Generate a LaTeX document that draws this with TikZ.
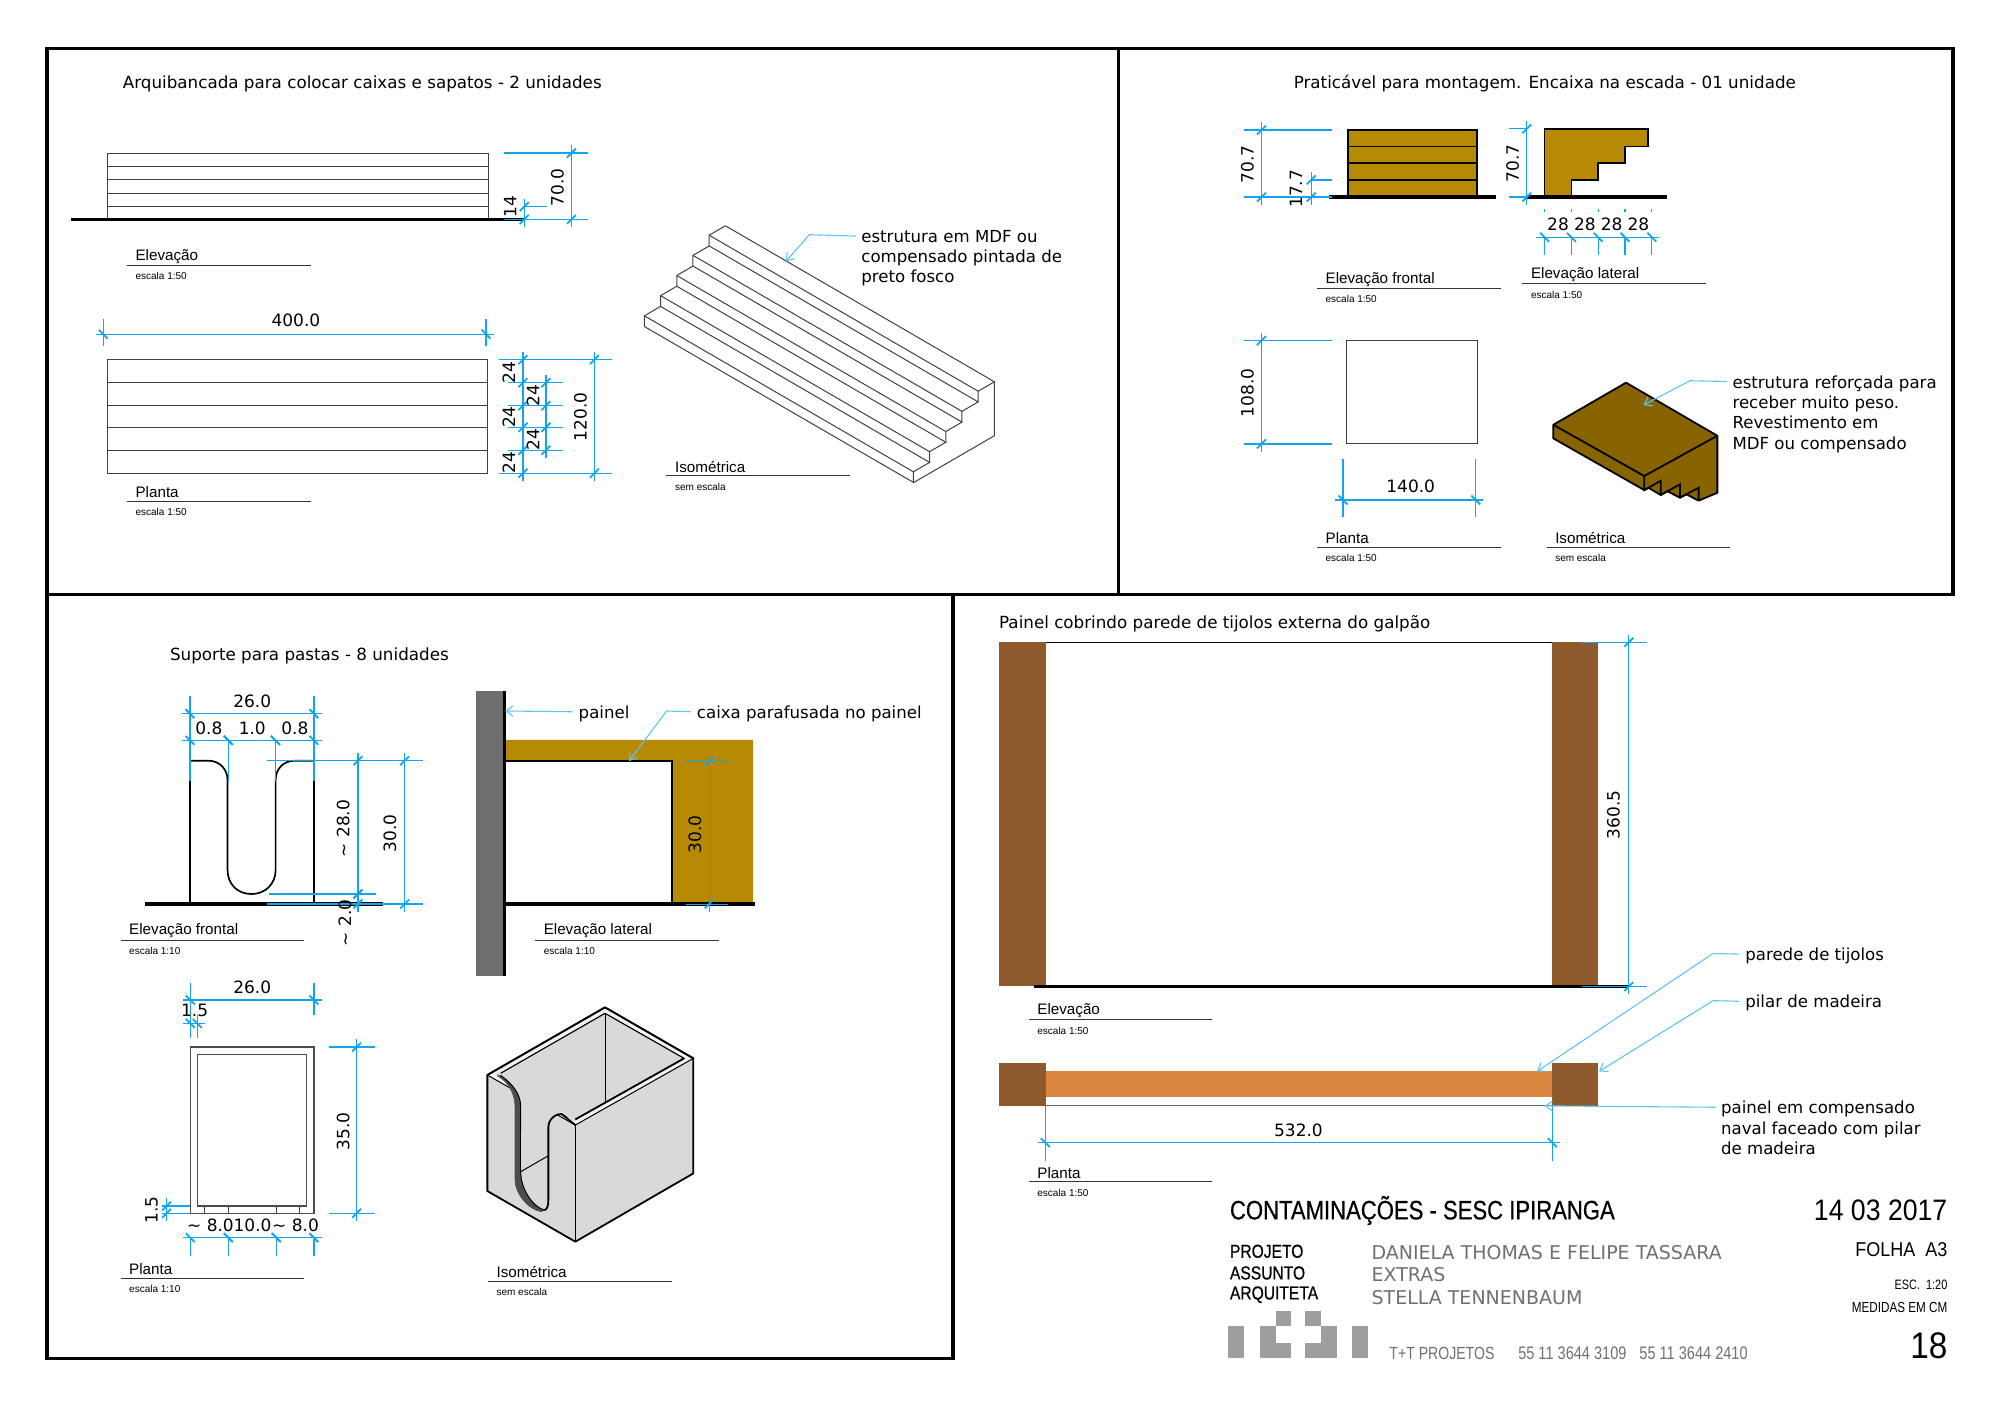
\documentclass[tikz,border=0pt]{standalone}
\usepackage{fontspec}
\setmainfont{DejaVu Sans}
\newfontfamily\capfont{Liberation Sans}
\newfontfamily\blockfont[FakeStretch=0.83,FakeBold=0.5]{Liberation Sans}
\newfontfamily\blockwide[FakeStretch=0.9]{Liberation Sans}
\newfontfamily\blockthin[FakeStretch=0.8]{Liberation Sans}
\usetikzlibrary{arrows.meta}

\definecolor{dimblue}{HTML}{12A5EC}
\definecolor{leadblue}{HTML}{5CC6F2}
\definecolor{gold}{HTML}{B68A05}
\definecolor{isobrown}{HTML}{876400}
\definecolor{pillar}{HTML}{8E5A2C}
\definecolor{plywood}{HTML}{DB8740}
\definecolor{blockgray}{HTML}{707070}

\tikzset{
  frameline/.style={line width=1.8pt,black},
  ground/.style={line width=1.7pt,black},
  thinline/.style={line width=0.5pt,black!75},
  dimline/.style={line width=0.65pt,dimblue},
  dimtick/.style={line width=0.9pt,dimblue},
  leader/.style={line width=0.55pt,leadblue,-{Straight Barb[length=3.5pt,width=5pt]}},
  dimtext/.style={font=\fontsize{8.5}{10}\selectfont,inner sep=0pt,yshift=-0.6pt},
  sheettitle/.style={font=\fontsize{8.37}{10}\selectfont,anchor=west,inner sep=0pt,yshift=-1.2pt},
  note/.style={font=\fontsize{8.3}{10.2}\selectfont,anchor=north west,align=left,inner sep=0pt,yshift=-1pt},
  capname/.style={font=\capfont\fontsize{7.6}{9}\selectfont,anchor=west,inner sep=0pt,yshift=-0.9pt},
  capscale/.style={font=\capfont\fontsize{5}{6}\selectfont,anchor=west,inner sep=0pt,yshift=-0.3pt},
  blockbig/.style={font=\blockfont\fontsize{13.3}{15}\selectfont,inner sep=0pt},
  blockkeys/.style={font=\blockfont\fontsize{9.4}{12}\selectfont,inner sep=0pt},
  blockval/.style={font=\fontsize{9.5}{11}\selectfont,text=blockgray,inner sep=0pt},
  blockgrey/.style={font=\blockthin\fontsize{9.2}{11}\selectfont,text=blockgray,inner sep=0pt},
  blockright/.style={font=\blockwide\fontsize{10}{12}\selectfont,anchor=east,inner sep=0pt},
  blocksmall/.style={font=\blockthin\fontsize{7.3}{8}\selectfont,anchor=east,inner sep=0pt},
  logocell/.style={fill=black!38,draw=none},
}

% dimension lines: position, then the two ends
\newcommand{\dimV}[3]{%
  \draw[dimline] (#1,#2-6) -- (#1,#3+6);
  \draw[dimtick] (#1-3.5,#2+3.5) -- (#1+3.5,#2-3.5);
  \draw[dimtick] (#1-3.5,#3+3.5) -- (#1+3.5,#3-3.5);
}
\newcommand{\dimH}[3]{%
  \draw[dimline] (#2-6,#1) -- (#3+6,#1);
  \draw[dimtick] (#2-3.5,#1-3.5) -- (#2+3.5,#1+3.5);
  \draw[dimtick] (#3-3.5,#1-3.5) -- (#3+3.5,#1+3.5);
}
% view caption: name, x of text, y of rule, title, scale
\newcommand{\viewcap}[5]{%
  \node[capname] (#1) at (#2,#3-8.5) {#4};
  \node[capscale] (#1s) at (#2,#3+8) {#5};
  \draw[line width=0.55pt,black!80] (#2-6.5,#3) -- (#2+137.5,#3);
}

\begin{document}
\begin{tikzpicture}[x=0.63776pt,y=-0.63776pt]
\useasboundingbox (0,0) rectangle (1568,1108.6);

% Sheet frames
\draw[frameline] (37,38) rectangle (1531,466);
\draw[frameline] (877,38) -- (877,466);
\draw[frameline] (37,466) -- (37,1065) -- (747,1065) -- (747,466);

% ---- Arquibancada ----
\node[sheettitle] (titlea) at (96,64) {Arquibancada para colocar caixas e sapatos - 2 unidades};

% Elevation
\draw[thinline] (84,120) rectangle (383,172);
\foreach \ly in {130.5,141,151.5,162} \draw[thinline] (84,\ly) -- (383,\ly);
\draw[ground] (56,172) -- (411,172);
\draw[dimline] (395,120) -- (461,120);
\draw[dimline] (395,172) -- (461,172);
\draw[dimline] (411,162) -- (429,162);
\dimV{448}{120}{172}
\dimV{411}{162}{172}
\node[dimtext,rotate=90] (dimaa) at (437,146) {70.0};
\node[dimtext,rotate=90] (dimab) at (400,161) {14};
\viewcap{capaa}{106}{208}{Elevação}{escala 1:50}

% Plan
\draw[thinline] (84,282) rectangle (382,371);
\foreach \ly in {300,318,335,353} \draw[thinline] (84,\ly) -- (382,\ly);
\dimH{262}{81}{381}
\draw[dimline] (81,250) -- (81,271);
\draw[dimline] (381,250) -- (381,271);
\node[dimtext] (dimac) at (232,250) {400.0};
\draw[dimline] (391,282) -- (480,282);
\draw[dimline] (391,371) -- (480,371);
\foreach \ly in {300,318,335,353} \draw[dimline] (398,\ly) -- (441,\ly);
\dimV{410}{282}{371}
\dimV{428}{300}{353}
\dimV{466}{282}{371}
\foreach \ly in {300,318,335,353} {
  \draw[dimtick] (406.5,\ly+3.5) -- (413.5,\ly-3.5);
}
\draw[dimtick] (424.5,321.5) -- (431.5,314.5);
\draw[dimtick] (424.5,338.5) -- (431.5,331.5);
\foreach \ly [count=\n] in {291,326,362} \node[dimtext,rotate=90] (dimad\n) at (399,\ly) {24};
\foreach \ly [count=\n] in {309,344} \node[dimtext,rotate=90] (dimae\n) at (418,\ly) {24};
\node[dimtext,rotate=90] (dimaf) at (455,326) {120.0};
\viewcap{capab}{106}{393}{Planta}{escala 1:50}

% Isometric stand
\foreach \i in {0,...,4} {
  \pgfmathsetmacro{\px}{568.7-12.7*\i}
  \pgfmathsetmacro{\py}{177+15.8*\i}
  \draw[thinline] (\px,\py) -- ++(-12.7,7.4) coordinate (nose) -- ++(0,8.4);
  \draw[thinline] (\px,\py) -- ++(210.9,122.3) -- ++(-12.7,7.4) -- ++(0,8.4);
  \draw[thinline] (nose) -- ++(210.9,122.3);
}
\draw[thinline] (505.2,256) -- (716.3,378.3) -- (779.6,341.6) -- (779.6,299.3);
\node[note] (notea) at (675,178.5) {estrutura em MDF ou\\compensado pintada de\\preto fosco};
\coordinate (notetipa) at (616,205);
\draw[leader] ([shift={(-4,5)}]notea.north west) -- (634.5,184) -- (notetipa);
\viewcap{capac}{529}{373}{Isométrica}{sem escala}

% ---- Praticavel ----
\node[sheettitle] (titleb) at (1014,64) {Praticável para montagem. Encaixa na escada - 01 unidade};

% Front elevation
\draw[fill=gold,line width=0.8pt] (1057,102) rectangle (1158,154);
\foreach \ly in {115,128,141} \draw[line width=0.8pt] (1057,\ly) -- (1158,\ly);
\draw[ground] (1042,154.5) -- (1173,154.5);
\draw[dimline] (975,102) -- (1044,102);
\draw[dimline] (975,154.5) -- (1044,154.5);
\draw[dimline] (1028,141) -- (1044,141);
\dimV{989}{102}{154.5}
\dimV{1028}{141}{154.5}
\node[dimtext,rotate=90] (dimba) at (978,128) {70.7};
\node[dimtext,rotate=90] (dimbb) at (1016,147) {17.7};
\viewcap{capba}{1039}{226}{Elevação frontal}{escala 1:50}

% Side elevation
\draw[fill=gold,line width=0.8pt] (1211,101) -- (1292,101) -- (1292,115) -- (1274,115) -- (1274,128)
  -- (1253,128) -- (1253,141) -- (1232,141) -- (1232,154) -- (1211,154) -- cycle;
\draw[ground] (1196,154.5) -- (1307,154.5);
\draw[dimline] (1183,101) -- (1198,101);
\draw[dimline] (1183,154.5) -- (1198,154.5);
\dimV{1197}{101}{154.5}
\node[dimtext,rotate=90] (dimbc) at (1186,127) {70.7};
\draw[dimline] (1204,186) -- (1301,186);
\foreach \tx in {1211,1232,1253,1274,1295} {
  \draw[dimline] (\tx,186) -- (\tx,200);
  \draw[dimtick] (\tx-3.5,182.5) -- (\tx+3.5,189.5);
  \draw[dimline] (\tx,164) -- (\tx,166);
}
\foreach \tx [count=\n] in {1221.5,1242.5,1263.5,1284.5} \node[dimtext] (dimbd\n) at (\tx,175) {28};
\viewcap{capbb}{1200}{222.5}{Elevação lateral}{escala 1:50}

% Plan
\draw[thinline] (1056,267) rectangle (1158,348);
\draw[dimline] (975,267) -- (1044,267);
\draw[dimline] (975,348) -- (1044,348);
\dimV{989}{267}{348}
\node[dimtext,rotate=90] (dimbe) at (978,307) {108.0};
\dimH{392}{1053}{1157}
\draw[dimline] (1053,360) -- (1053,405);
\draw[dimline] (1157,360) -- (1157,405);
\node[dimtext] (dimbf) at (1106,380) {140.0};
\viewcap{capbc}{1039}{429}{Planta}{escala 1:50}

% Isometric block
\draw[fill=isobrown,line width=0.9pt,line join=round] (1274.8,300) -- (1346.4,341.6) -- (1346.4,386.3) -- (1331.7,392.5)
  -- (1322,387.5) -- (1317.1,390.2) -- (1307,385) -- (1302,388.1) -- (1292.5,382.5) -- (1289.1,384.2)
  -- (1217.8,343.7) -- (1217.8,333) -- cycle;
\draw[line width=0.9pt] (1217.8,333) -- (1289.1,373.2) -- (1346.4,341.6);
\draw[line width=0.9pt] (1289.1,373.2) -- (1289.1,384.2) -- (1302,376.9) -- (1302,388.1);
\draw[line width=0.9pt] (1302,388.1) -- (1317.1,379.7) -- (1317.1,390.2);
\draw[line width=0.9pt] (1317.1,390.2) -- (1331.7,382.4) -- (1331.7,392.5);
\node[note] (noteb) at (1358,292.5) {estrutura reforçada para\\receber muito peso.\\Revestimento em\\MDF ou compensado};
\coordinate (notetipb) at (1288.4,317.6);
\draw[leader] ([shift={(-4,5)}]noteb.north west) -- (1325,298.5) -- (notetipb);
\viewcap{capbd}{1219}{429}{Isométrica}{sem escala}

% ---- Suporte ----
\node[sheettitle] (titlec) at (133,512) {Suporte para pastas - 8 unidades};

% Front elevation
\draw[line width=0.85pt] (148.9,708.7) -- (148.9,596.4) -- (163.6,596.4)
  .. controls (172,596.4) and (178.4,603) .. (178.4,611.5) -- (178.4,682)
  .. controls (178.4,693) and (186,700.9) .. (197.2,700.9)
  .. controls (208,700.9) and (216.1,693) .. (216.1,682) -- (216.1,611.5)
  .. controls (216.1,603) and (222,596.4) .. (231,596.4) -- (246.1,596.4) -- (246.1,708.7);
\draw[ground] (113.6,708.7) -- (300.5,708.7);
\dimH{559.5}{148.9}{246.1}
\dimH{580.4}{148.9}{179}
\dimH{580.4}{179}{216}
\dimH{580.4}{216}{246.1}
\foreach \tx in {148.9,246.1} \draw[dimline] (\tx,546) -- (\tx,612);
\foreach \tx in {179,216} \draw[dimline] (\tx,580.4) -- (\tx,612);
\draw[dimline] (209,596.4) -- (331.4,596.4);
\draw[dimline] (209,708.7) -- (331.4,708.7);
\draw[dimline] (210.7,700.9) -- (294.5,700.9);
\dimV{280.6}{596.4}{700.9}
\dimV{280.6}{700.9}{708.7}
\dimV{317.2}{596.4}{708.7}
\node[dimtext] (dimca) at (197.8,548.8) {26.0};
\node[dimtext] (dimcb) at (163.8,569.7) {0.8};
\node[dimtext] (dimcc) at (197.8,569.7) {1.0};
\node[dimtext] (dimcd) at (231.2,569.7) {0.8};
\node[dimtext,rotate=90] (dimce) at (269,648.6) {\textasciitilde{} 28.0};
\node[dimtext,rotate=90] (dimcf) at (305.7,652.5) {30.0};
\node[dimtext,rotate=90] (dimcg) at (270.4,722.6) {\textasciitilde{} 2.0};
\viewcap{capca}{101}{737}{Elevação frontal}{escala 1:10}

% Plan
\draw[line width=0.75pt,black!70] (149.2,820.9) rectangle (246.1,951.2);
\draw[line width=0.75pt,black!70] (154.9,826.6) rectangle (240.4,945.5);
\foreach \tx in {160.4,179,216.6,234.9} \draw[thinline] (\tx,945.5) -- (\tx,951.2);
\dimH{784}{149.2}{246.1}
\foreach \tx in {149.2,246.1} \draw[dimline] (\tx,770.4) -- (\tx,796);
\dimH{802.3}{149.2}{154.7}
\foreach \tx in {149.2,154.7} \draw[dimline] (\tx,796) -- (\tx,814);
\node[dimtext] (dimch) at (197.8,772.8) {26.0};
\node[dimtext] (dimci) at (152.6,791.3) {1.5};
\draw[dimline] (257.6,820.9) -- (294,820.9);
\draw[dimline] (257.6,951.2) -- (294,951.2);
\dimV{279.6}{820.9}{951.2}
\node[dimtext,rotate=90] (dimcj) at (269,885.9) {35.0};
\draw[dimline] (126.7,945.5) -- (149,945.5);
\draw[dimline] (126.7,951.2) -- (149,951.2);
\dimV{130.6}{945.5}{951.2}
\node[dimtext,rotate=90] (dimck) at (118.9,947.9) {1.5};
\dimH{970.3}{149.2}{179}
\dimH{970.3}{179}{216.6}
\dimH{970.3}{216.6}{246.1}
\foreach \tx in {149.2,179,216.6,246.1} \draw[dimline] (\tx,970.3) -- (\tx,984.4);
\node[dimtext] (dimcl) at (165,959.5) {\textasciitilde{} 8.0};
\node[dimtext] (dimcm) at (198,959.5) {10.0};
\node[dimtext] (dimcn) at (231.7,959.5) {\textasciitilde{} 8.0};
\viewcap{capcb}{101}{1002}{Planta}{escala 1:10}

% Side elevation
\fill[gold] (396.4,580.1) -- (590.5,580.1) -- (590.5,708.7) -- (526.8,708.7) -- (526.8,596.3) -- (396.4,596.3) -- cycle;
\fill[black!57] (373.1,541.5) rectangle (395.4,765.1);
\draw[line width=1.7pt] (395.4,541.5) -- (395.4,765.1);
\draw[line width=0.9pt] (396.4,596.3) -- (526.8,596.3) -- (526.8,708.7);
\draw[ground] (396.4,708.7) -- (591.8,708.7);
\draw[dimline,line width=0.45pt] (537.8,597.1) -- (570.4,597.1);
\draw[dimline,line width=0.45pt] (537.8,708.7) -- (570.4,708.7);
\dimV{556}{597.1}{708.7}
\node[dimtext,rotate=90] (dimcp) at (544.8,653.3) {30.0};
\node[note,anchor=west] (notec) at (453.4,558) {painel};
\node[note,anchor=west] (noted) at (546.1,558) {caixa parafusada no painel};
\coordinate (notetipc) at (395.9,557.4);
\coordinate (notetipd) at (493.3,596.6);
\draw[leader] ([xshift=-3pt,yshift=1pt]notec.west) -- (notetipc);
\draw[leader] ([xshift=-3pt,yshift=1pt]noted.west) -- (522.6,557.4) -- (notetipd);
\viewcap{capcc}{426}{737}{Elevação lateral}{escala 1:10}

% Isometric box, in pixels of a detail drawing
\begin{scope}[shift={(368.5,776.2)},scale=0.2613]
\draw[fill=black!15,line width=0.9pt,line join=round] (405,52) -- (670,205) -- (670,550) -- (316,755) -- (52,603) -- (52,255) -- cycle;
\draw[fill=black!5,line width=0.5pt,even odd rule] (405,52) -- (670,205) -- (316,405) -- (52,255) -- cycle
  (405,70) -- (642,205) -- (316,388) -- (83,255) -- cycle;
\fill[black!15] (405,70) -- (642,205) -- (316,388) -- (83,255) -- cycle;
\draw[line width=0.5pt] (83,255) -- (405,70) -- (642,205);
\draw[line width=0.9pt] (405,52) -- (670,205);
\draw[line width=0.9pt] (405,52) -- (52,255);
\draw[line width=0.5pt] (405,70) -- (405,335);
\draw[line width=0.5pt] (316,405) -- (316,755);
% slot
\fill[black!15] (83,258) .. controls (115,275) and (135,310) .. (135,352) -- (135,570)
  .. controls (135,610) and (175,660) .. (215,665) .. controls (228,665) and (235,650) .. (235,630)
  -- (235,412) .. controls (235,385) and (260,370) .. (275,372) -- (316,395) -- (316,380) -- (83,245) -- cycle;
\draw[fill=black!3,line width=0.3pt,black!70] (83,258) .. controls (115,275) and (135,310) .. (135,352) -- (135,570)
  .. controls (135,610) and (175,660) .. (215,665) -- (222,660)
  .. controls (190,650) and (152,600) .. (152,545) -- (152,350) .. controls (152,310) and (125,280) .. (92,256) -- cycle;
\draw[line width=0.45pt] (92,256) .. controls (125,280) and (152,310) .. (152,350) -- (152,420);
\draw[line width=0.6pt] (152,350) -- (152,545);
\draw[line width=0.45pt] (152,545) .. controls (152,600) and (190,650) .. (222,660);
\draw[line width=0.9pt] (222,660) .. controls (230,660) and (235,650) .. (235,630)
  -- (235,412) .. controls (235,385) and (260,370) .. (275,372) -- (316,405);
\draw[line width=0.4pt] (275,372) -- (292,382);
\draw[line width=0.5pt] (152,545) -- (235,497);
\draw[line width=0.9pt] (316,388) -- (642,205);
\end{scope}
\viewcap{capcd}{389}{1004.5}{Isométrica}{sem escala}

% ---- Painel ----
\node[sheettitle] (titled) at (783,487) {Painel cobrindo parede de tijolos externa do galpão};

% Elevation
\fill[pillar] (783,503) rectangle (820,773);
\fill[pillar] (1217,503) rectangle (1253,773);
\draw[line width=0.5pt] (820,503.5) -- (1217,503.5);
\draw[line width=1.2pt] (811,773.5) -- (1277,773.5);
\draw[dimline,line width=0.45pt] (1240,503.5) -- (1291,503.5);
\draw[dimline,line width=0.45pt] (1240,773.5) -- (1291,773.5);
\dimV{1277}{503.5}{773.5}
\node[dimtext,rotate=90] (dimda) at (1265,638) {360.5};
\viewcap{capda}{813}{799.5}{Elevação}{escala 1:50}

% Plan
\fill[pillar] (783,833) rectangle (820,867);
\fill[pillar] (1217,833) rectangle (1253,867);
\fill[plywood] (820,840) rectangle (1217,860);
\draw[line width=0.6pt,black!60] (820,866.8) -- (1217,866.8);
\foreach \tx in {819.5,1217} \draw[dimline,line width=0.45pt] (\tx,867) -- (\tx,910);
\dimH{895.9}{819.5}{1217}
\node[dimtext] (dimdb) at (1018,885) {532.0};
\viewcap{capdb}{813}{926.5}{Planta}{escala 1:50}
\node[note,anchor=west] (notee) at (1368,748) {parede de tijolos};
\node[note,anchor=west] (notef) at (1368,785) {pilar de madeira};
\node[note] (noteg) at (1349,861.5) {painel em compensado\\naval faceado com pilar\\de madeira};
\coordinate (notetipe) at (1205,840);
\coordinate (notetipf) at (1253.6,840);
\coordinate (notetipg) at (1211,867);
\draw[leader] ([xshift=-3pt,yshift=1pt]notee.west) -- (1343,747.5) -- (notetipe);
\draw[leader] ([xshift=-3pt,yshift=1pt]notef.west) -- (1343,784.5) -- (notetipf);
\draw[leader] ([shift={(-4,5)}]noteg.north west) -- (notetipg);

% ---- Title block ----
\node[blockbig,anchor=west] (blocktitle) at (964,949) {CONTAMINAÇÕES - SESC IPIRANGA};
\node[blockright,font=\blockwide\fontsize{14.8}{16}\selectfont] (blockdate) at (1527,949) {14 03 2017};
\foreach \ty/\txt [count=\n] in {981/PROJETO,998/ASSUNTO,1015/ARQUITETA}
  \node[blockkeys,anchor=west] (blockkey\n) at (964,\ty) {\txt};
\foreach \ty/\txt [count=\n] in {982/DANIELA THOMAS E FELIPE TASSARA,999/EXTRAS,1017/STELLA TENNENBAUM}
  \node[blockval,anchor=west] (blockval\n) at (1075,\ty) {\txt};
\node[blockright] (blocksheet) at (1527,980) {FOLHA\ \ A3};
\node[blocksmall,font=\blockthin\fontsize{6.8}{8}\selectfont] (blockesc) at (1527,1007) {ESC.\ \ 1:20};
\node[blocksmall] (blockmed) at (1527,1025) {MEDIDAS EM CM};
\node[blockright,font=\blockwide\fontsize{18.5}{20}\selectfont] (blockpage) at (1527,1055) {18};
\node[blockgrey,anchor=west,font=\blockthin\fontsize{8.8}{11}\selectfont] (blockfirm) at (1089,1061) {T+T PROJETOS};
\node[blockgrey,anchor=west,font=\blockthin\fontsize{9.1}{11}\selectfont] (blocktela) at (1190,1061) {55 11 3644 3109};
\node[blockgrey,anchor=west,font=\blockthin\fontsize{9.1}{11}\selectfont] (blocktelb) at (1285,1061) {55 11 3644 2410};

% Logo
\fill[logocell] (963,1039.6) rectangle (975.5,1065);
\fill[logocell] (987.6,1039.6) rectangle (1000,1065);
\fill[logocell] (1000,1027.6) rectangle (1012,1039.6);
\fill[logocell] (1000,1052.7) rectangle (1012,1065);
\fill[logocell] (1023.5,1027.6) rectangle (1035.6,1039.6);
\fill[logocell] (1023.5,1052.7) rectangle (1035.6,1065);
\fill[logocell] (1035.6,1039.6) rectangle (1048,1065);
\fill[logocell] (1059.8,1039.6) rectangle (1072.2,1065);

\end{tikzpicture}
\end{document}
